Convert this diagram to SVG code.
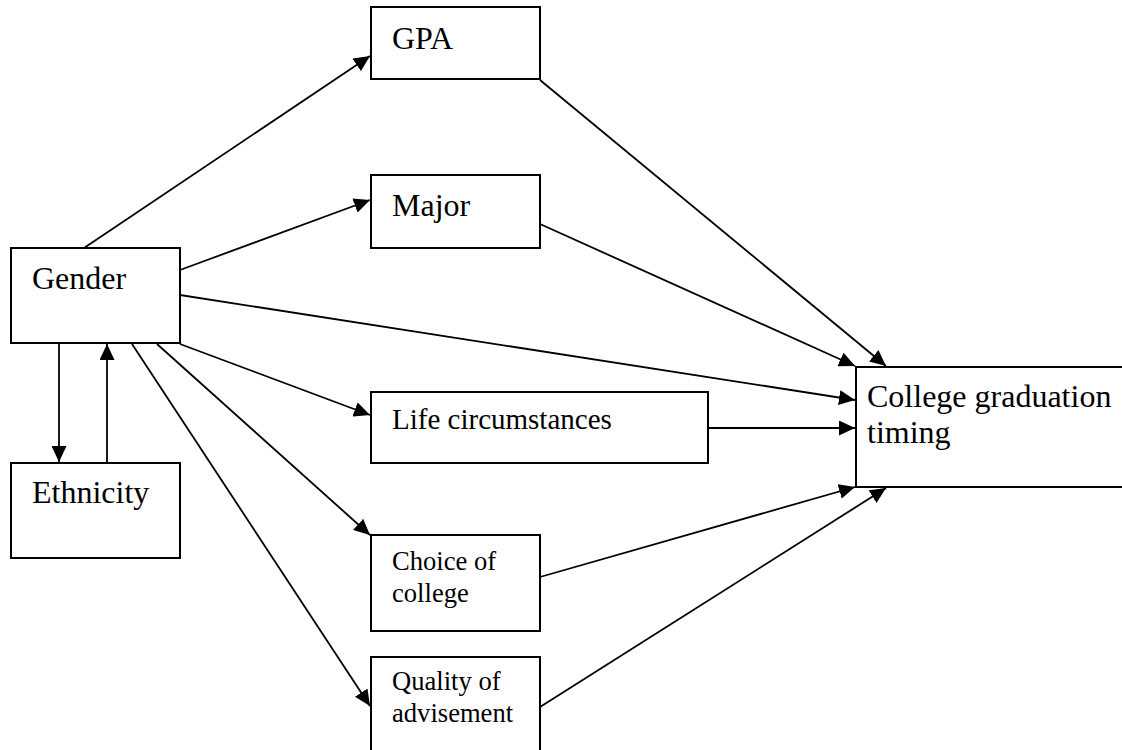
<svg xmlns="http://www.w3.org/2000/svg" width="1122" height="750" viewBox="0 0 1122 750">
<style>
.box{fill:#fff;stroke:#000;stroke-width:2}
.lbl{font-family:"Liberation Serif","Times New Roman",serif;font-size:32px;fill:#000}
.sm{font-size:29px}
.xs{font-size:26.6px}
.con line{stroke:#000;stroke-width:1.8;marker-end:url(#ah)}
</style>
<defs>
<marker id="ah" markerUnits="userSpaceOnUse" markerWidth="16" markerHeight="15" refX="16" refY="7.5" orient="auto">
<path d="M0,0 L16,7.5 L0,15 z" fill="#000"/>
</marker>
</defs>
<rect width="1122" height="750" fill="#fff"/>
<g id="connectors" class="con">
<line x1="84" y1="248" x2="370" y2="56"/>
<line x1="180" y1="270" x2="370" y2="200"/>
<line x1="180" y1="295" x2="855" y2="400"/>
<line x1="180" y1="344" x2="370" y2="415"/>
<line x1="157" y1="344" x2="370" y2="535"/>
<line x1="132" y1="344" x2="370" y2="706"/>
<line x1="59" y1="344" x2="59" y2="462"/>
<line x1="107" y1="463" x2="107" y2="344"/>
<line x1="540" y1="80" x2="886" y2="366"/>
<line x1="540" y1="224" x2="855" y2="366"/>
<line x1="708" y1="428" x2="855" y2="428"/>
<line x1="540" y1="577" x2="855" y2="487"/>
<line x1="540" y1="707" x2="886" y2="488"/>
</g>
<g id="gpa"><rect class="box" x="371" y="7" width="169" height="72"/><text class="lbl" x="392" y="49">GPA</text></g>
<g id="major"><rect class="box" x="371" y="175" width="169" height="73"/><text class="lbl" x="392" y="216">Major</text></g>
<g id="gender"><rect class="box" x="11" y="248" width="169" height="95"/><text class="lbl" x="32" y="289">Gender</text></g>
<g id="ethnicity"><rect class="box" x="11" y="463" width="169" height="95"/><text class="lbl" x="32" y="503">Ethnicity</text></g>
<g id="life"><rect class="box" x="371" y="392" width="337" height="71"/><text class="lbl sm" x="392" y="429">Life circumstances</text></g>
<g id="choice"><rect class="box" x="371" y="535" width="169" height="96"/><text class="lbl xs" x="392" y="570">Choice of</text><text class="lbl xs" x="392" y="602">college</text></g>
<g id="quality"><rect class="box" x="371" y="657" width="169" height="120"/><text class="lbl xs" x="392" y="690">Quality of</text><text class="lbl xs" x="392" y="722">advisement</text></g>
<g id="timing"><rect class="box" x="856" y="367" width="300" height="120"/><text class="lbl" x="867" y="407">College graduation</text><text class="lbl" x="867" y="443">timing</text></g>
</svg>
